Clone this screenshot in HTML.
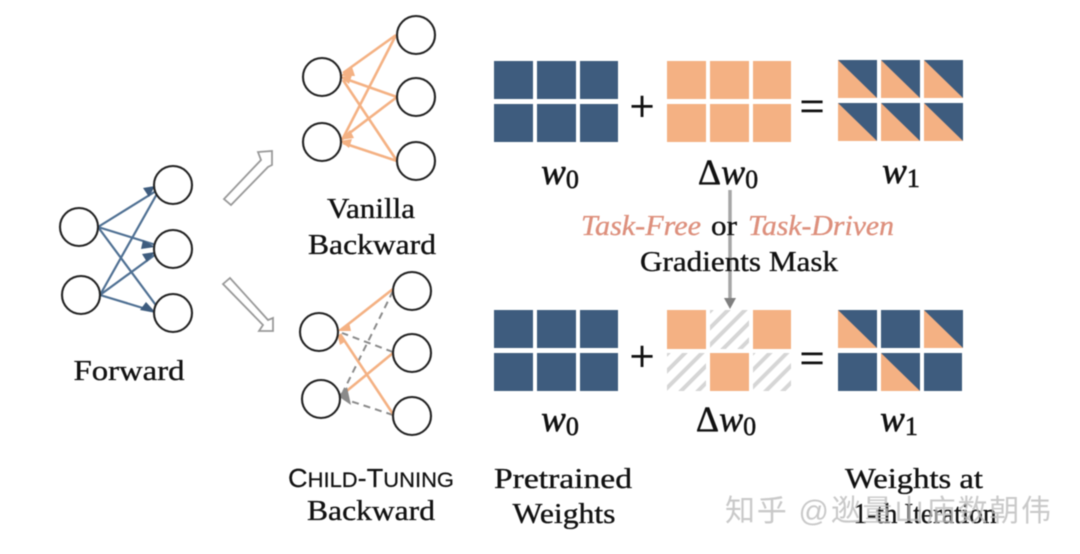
<!DOCTYPE html>
<html><head><meta charset="utf-8"><style>
html,body{margin:0;padding:0;background:#fff;width:1080px;height:554px;overflow:hidden}
svg{display:block;filter:blur(.5px)}
text{font-family:"Liberation Serif",serif;font-size:28px;fill:#111;text-anchor:middle;stroke:#111;stroke-width:.35}
.m{font-style:italic;font-size:37px;stroke-width:.6}
.s{font-size:26px;font-style:normal}
.t{font-style:italic;fill:#dd8f7c;stroke:#dd8f7c}
.op{font-size:44px;stroke-width:.6}
.c{fill:#fff;stroke:#222;stroke-width:2.1}
.b{stroke:#4f7093;stroke-width:2.2;fill:none}
.o{stroke:#f4b183;stroke-width:2.6;fill:none}
.g{stroke:#8a8a8a;stroke-width:2;stroke-dasharray:7 5;fill:none}
.n{fill:#3e5c7e}.p{fill:#f4b183}
</style></head><body>
<svg width="1080" height="554" viewBox="0 0 1080 554" xmlns="http://www.w3.org/2000/svg">
<defs>
<pattern id="h" width="12" height="12" patternUnits="userSpaceOnUse" patternTransform="rotate(45)"><rect width="12" height="12" fill="#fff"/><rect width="4" height="12" fill="#d6d6d6"/></pattern>
<g id="gn">
<rect x="0" y="0" width="39" height="38" class="n"/><rect x="43" y="0" width="39" height="38" class="n"/><rect x="86" y="0" width="38" height="38" class="n"/>
<rect x="0" y="43" width="39" height="38" class="n"/><rect x="43" y="43" width="39" height="38" class="n"/><rect x="86" y="43" width="38" height="38" class="n"/>
</g>
<g id="tri"><rect width="39" height="38" class="n"/><polygon points="0,0 39,38 0,38" class="p"/></g>
</defs>

<!-- forward arrows -->
<g class="b">
<path d="M98 227L156 191M98 227L156 245M98 227L158 308M100 295L158 192M100 295L156 254M100 295L156 312"/>
</g>
<g fill="#3e5c7e">
<polygon points="155,186 143,188 149,197"/><polygon points="155,247 143,240 141,249"/><polygon points="156,313 146,302 140,310"/>
<polygon points="155,252 142,254 147,262"/>
</g>
<circle class="c" cx="79" cy="227" r="19"/><circle class="c" cx="81" cy="295" r="19"/>
<circle class="c" cx="173" cy="185" r="19"/><circle class="c" cx="173" cy="249" r="19"/><circle class="c" cx="173" cy="313" r="19"/>

<!-- hollow arrows -->
<polygon points="224,199 261,160 258,152 272,151 272,165 268,167 231,205" fill="#fff" stroke="#999" stroke-width="1.8"/>
<polygon points="223,284 230,278 268,320 273,318 273,331 259,331 263,325" fill="#fff" stroke="#999" stroke-width="1.8"/>

<!-- vanilla -->
<g class="o"><path d="M396 35L343 73M396 35L342 140M397 97L343 78M397 97L343 138M397 161L343 80M397 161L343 143"/></g>
<g fill="#f4b183"><polygon points="340,76 352,67 355,76"/><polygon points="340,77 352,75 349,84"/><polygon points="340,140 350,130 354,138"/><polygon points="340,141 352,139 349,148"/></g>
<circle class="c" cx="322" cy="77" r="19"/><circle class="c" cx="322" cy="142" r="19"/>
<circle class="c" cx="416" cy="35" r="19"/><circle class="c" cx="416" cy="97" r="19"/><circle class="c" cx="416" cy="161" r="19"/>
<text x="371" y="218" textLength="88" lengthAdjust="spacingAndGlyphs">Vanilla</text>
<text x="372" y="254" textLength="128" lengthAdjust="spacingAndGlyphs">Backward</text>

<!-- child tuning -->
<g class="g"><path d="M393 291L343 392M393 352L342 333M393 415L344 399"/></g>
<g class="o"><path d="M393 289L342 329M393 353L343 394M393 414L340 334"/></g>
<polygon points="337,331 349,322 351,331" fill="#f4b183"/><polygon points="337,333 346,341 340,345" fill="#f4b183"/>
<polygon points="338,396 347,387 351,405" fill="#8a8a8a"/>
<circle class="c" cx="319" cy="332" r="19"/><circle class="c" cx="321" cy="399" r="19"/>
<circle class="c" cx="412" cy="291" r="19"/><circle class="c" cx="412" cy="353" r="19"/><circle class="c" cx="412" cy="416" r="19"/>
<text x="371" y="487" textLength="166" lengthAdjust="spacingAndGlyphs" style="font-family:'Liberation Sans',sans-serif;font-size:26px;stroke-width:.2">C<tspan font-size="21">HILD</tspan>-T<tspan font-size="21">UNING</tspan></text>
<text x="371" y="520" textLength="128" lengthAdjust="spacingAndGlyphs">Backward</text>
<text x="129" y="380" textLength="111" lengthAdjust="spacingAndGlyphs">Forward</text>

<!-- top row -->
<use href="#gn" x="494" y="61"/>
<g class="p"><rect x="667" y="61" width="39" height="38"/><rect x="710" y="61" width="39" height="38"/><rect x="753" y="61" width="38" height="38"/><rect x="667" y="104" width="39" height="38"/><rect x="710" y="104" width="39" height="38"/><rect x="753" y="104" width="38" height="38"/></g>
<use href="#tri" x="838" y="60"/><use href="#tri" x="881" y="60"/><use href="#tri" x="924" y="60"/>
<use href="#tri" x="838" y="103"/><use href="#tri" x="881" y="103"/><use href="#tri" x="924" y="103"/>
<text x="642" y="121" class="op">+</text>
<text x="812" y="121" class="op">=</text>
<text x="560" y="184" class="m">w<tspan class="s" dy="4">0</tspan></text>
<text x="728" y="184" style="font-size:36px;stroke-width:.5">Δ<tspan font-style="italic">w</tspan><tspan class="s" dy="4">0</tspan></text>
<text x="901" y="183" class="m">w<tspan class="s" dy="4">1</tspan></text>

<!-- mask arrow -->
<line x1="730" y1="190" x2="730" y2="300" stroke="#a6a6a6" stroke-width="3.5"/>
<polygon points="724,298 736,298 730,309" fill="#7f7f7f"/>
<text x="641" y="235" class="t" textLength="120" lengthAdjust="spacingAndGlyphs">Task-Free</text>
<text x="724" y="235" textLength="26" lengthAdjust="spacingAndGlyphs">or</text>
<text x="821" y="235" class="t" textLength="146" lengthAdjust="spacingAndGlyphs">Task-Driven</text>
<text x="739" y="271" textLength="198" lengthAdjust="spacingAndGlyphs">Gradients Mask</text>

<!-- bottom row -->
<use href="#gn" x="494" y="310"/>
<rect x="667" y="310" width="39" height="39" class="p"/><rect x="710" y="310" width="39" height="39" fill="url(#h)"/><rect x="753" y="310" width="38" height="39" class="p"/>
<rect x="667" y="353" width="39" height="38" fill="url(#h)"/><rect x="710" y="353" width="39" height="38" class="p"/><rect x="753" y="353" width="38" height="38" fill="url(#h)"/>
<use href="#tri" x="838" y="310"/><rect x="881" y="310" width="39" height="38" class="n"/><use href="#tri" x="924" y="310"/>
<rect x="838" y="353" width="39" height="38" class="n"/><use href="#tri" x="881" y="353"/><rect x="924" y="353" width="38" height="38" class="n"/>
<text x="642" y="371" class="op">+</text>
<text x="812" y="373" class="op">=</text>
<text x="560" y="431" class="m">w<tspan class="s" dy="4">0</tspan></text>
<text x="726" y="431" style="font-size:36px;stroke-width:.5">Δ<tspan font-style="italic">w</tspan><tspan class="s" dy="4">0</tspan></text>
<text x="899" y="431" class="m">w<tspan class="s" dy="4">1</tspan></text>

<text x="563" y="488" textLength="138" lengthAdjust="spacingAndGlyphs">Pretrained</text>
<text x="564" y="523" textLength="103" lengthAdjust="spacingAndGlyphs">Weights</text>
<text x="914" y="488" textLength="138" lengthAdjust="spacingAndGlyphs">Weights at</text>
<text x="925" y="523" textLength="143" lengthAdjust="spacingAndGlyphs">1-th Iteration</text>
<text x="888" y="521" style="font-family:'Liberation Sans','Noto Sans CJK SC',sans-serif;font-size:30px;fill:#bbb;fill-opacity:.8;stroke:none" textLength="326">知乎 @逖量山庙数朝伟</text>
</svg>
</body></html>
